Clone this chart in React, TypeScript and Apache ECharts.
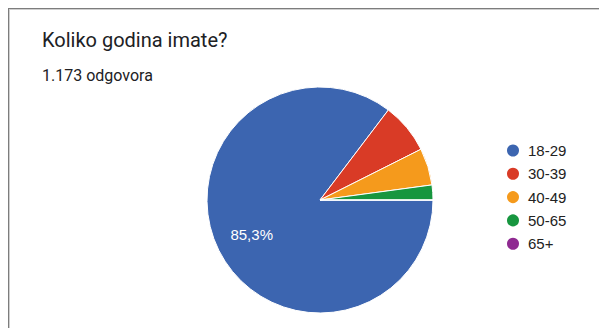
import React, { useEffect, useRef } from "react";
import * as echarts from "echarts";

const title = "Koliko godina imate?";
const subtitle = "1.173 odgovora";
const categories = ["18-29", "30-39", "40-49", "50-65", "65+"];
const counts = [1001, 85, 62, 25, 0];
const colors = ["#3c65b0", "#d93b26", "#f59a1c", "#17963f", "#8f2a91"];
const labelledSlices = ["18-29"];

export default function App() {
  const ref = useRef<HTMLDivElement>(null);
  useEffect(() => {
    if (!ref.current) return;
    const chart = echarts.init(ref.current, null, { renderer: "svg" });
    chart.setOption({
      animation: false,
      backgroundColor: "#ffffff",
      color: colors,
      title: [
        {
          text: title,
          left: 42,
          top: 30,
          padding: 0,
          textStyle: { fontFamily: "Roboto", fontSize: 20, fontWeight: "normal", color: "#202124" },
        },
        {
          text: subtitle,
          left: 42,
          top: 67,
          padding: 0,
          textStyle: { fontFamily: "Roboto", fontSize: 16, fontWeight: "normal", color: "#202124" },
        },
      ],
      legend: {
        orient: "vertical",
        left: 505,
        top: 142.5,
        padding: 0,
        icon: "circle",
        itemWidth: 14,
        itemHeight: 14,
        itemGap: 7.3,
        data: categories,
        textStyle: {
          fontFamily: "Liberation Sans, Arial",
          fontSize: 15,
          color: "#222222",
          lineHeight: 14,
          padding: [0, 0, 0, 3],
        },
      },
      graphic: [
        { type: "line", shape: { x1: 8, y1: 8.5, x2: 599, y2: 8.5 }, style: { stroke: "#7d7d7d", lineWidth: 1 } },
        { type: "line", shape: { x1: 9, y1: 9.5, x2: 599, y2: 9.5 }, style: { stroke: "#cfcfcf", lineWidth: 1 } },
        { type: "line", shape: { x1: 8.5, y1: 8, x2: 8.5, y2: 328 }, style: { stroke: "#7d7d7d", lineWidth: 1 } },
        { type: "line", shape: { x1: 9.5, y1: 9, x2: 9.5, y2: 328 }, style: { stroke: "#cfcfcf", lineWidth: 1 } },
      ],
      series: [
        {
          type: "pie",
          center: [320, 200],
          radius: 113,
          startAngle: 0,
          clockwise: true,
          avoidLabelOverlap: false,
          itemStyle: { borderColor: "#ffffff", borderWidth: 1 },
          label: { show: false },
          labelLine: { show: false },
          emphasis: { disabled: true },
          data: categories.map((name, i) => ({
            name,
            value: counts[i],
            label: labelledSlices.includes(name)
              ? {
                  show: true,
                  position: "inside",
                  offset: [-15, 8],
                  color: "#ffffff",
                  fontFamily: "Liberation Sans, Arial",
                  fontSize: 15,
                  formatter: (p: any) => p.percent.toFixed(1).replace(".", ",") + "%",
                }
              : { show: false },
          })),
        },
      ],
    });
    return () => chart.dispose();
  }, []);
  return (
    <div
      ref={ref}
      style={{ position: "absolute", left: 0, top: 0, width: 599, height: 328 }}
    />
  );
}
